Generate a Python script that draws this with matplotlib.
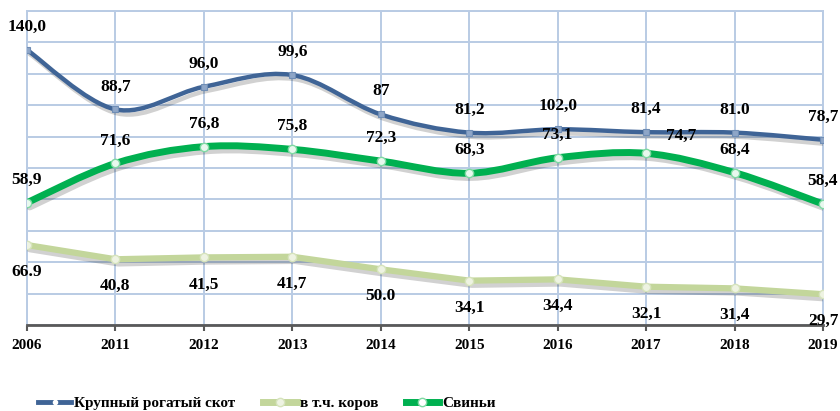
import matplotlib
matplotlib.use("Agg")
import matplotlib.pyplot as plt
from matplotlib.path import Path
from matplotlib.patches import PathPatch
from matplotlib.lines import Line2D
import matplotlib.patheffects as pe

plt.rcParams['font.family'] = 'serif'
plt.rcParams['font.serif'] = ['Liberation Serif', 'DejaVu Serif']

# data (positions, labels as printed)
years = ['2006', '2011', '2012', '2013', '2014', '2015', '2016', '2017', '2018', '2019']
cattle = [131.4, 103.0, 113.8, 119.4, 100.6, 91.9, 93.5, 92.1, 91.9, 88.5]
cattle_labels = ['140,0', '88,7', '96,0', '99,6', '87', '81,2', '102,0', '81,4', '81.0', '78,7']
cows = [38.2, 31.4, 32.3, 32.6, 26.6, 21.2, 21.8, 18.3, 17.5, 14.7]
cows_labels = ['66.9', '40,8', '41,5', '41,7', '50.0', '34,1', '34,4', '32,1', '31,4', '29,7']
pigs = [58.4, 77.2, 85.2, 83.9, 78.3, 72.5, 79.9, 82.0, 72.8, 57.8]
pigs_labels = ['58,9', '71,6', '76,8', '75,8', '72,3', '68,3', '73,1', '74,7', '68,4', '58,4']

C_BLUE = '#3f6496'
C_LIGHT = '#c3d69b'
C_GREEN = '#00b050'
C_GRID = '#b9cbe4'

shadow = [pe.SimpleLineShadow(offset=(2, -3), shadow_color='black', alpha=0.18), pe.Normal()]


def smooth_path(xs, ys):
    # catmull-rom style bezier through the points, like excel's smoothed line
    n = len(xs)
    verts = [(xs[0], ys[0])]
    codes = [Path.MOVETO]
    for i in range(n - 1):
        a = i - 1 if i > 0 else i
        d = i + 2 if i + 2 < n else i + 1
        c1 = (xs[i] + (xs[i + 1] - xs[a]) / 6, ys[i] + (ys[i + 1] - ys[a]) / 6)
        c2 = (xs[i + 1] - (xs[d] - xs[i]) / 6, ys[i + 1] - (ys[d] - ys[i]) / 6)
        verts += [c1, c2, (xs[i + 1], ys[i + 1])]
        codes += [Path.CURVE4] * 3
    return Path(verts, codes)


fig = plt.figure(figsize=(8.4, 4.11), dpi=100)
ax = fig.add_axes([27 / 840, 1 - 325 / 411, 796 / 840, 314 / 411])
x = list(range(len(years)))

ax.set_xlim(0, len(years) - 1)
ax.set_ylim(0, 150)
ax.set_yticks(range(0, 151, 15))
ax.set_xticks(x)
ax.set_xticklabels(years, fontweight='bold', fontsize=11)
ax.grid(True, color=C_GRID, lw=1.4)
ax.set_axisbelow(True)
ax.tick_params(axis='y', left=False, labelleft=False)
ax.tick_params(axis='x', length=4, width=1.5, color='#595959', pad=6)
for s in ['left', 'right', 'top']:
    ax.spines[s].set_color(C_GRID)
    ax.spines[s].set_linewidth(1.4)
ax.spines['bottom'].set_color('#595959')
ax.spines['bottom'].set_linewidth(2)

# lines
ax.add_patch(PathPatch(smooth_path(x, cattle), fill=False, edgecolor=C_BLUE, lw=3.2,
                       capstyle='round', zorder=4, path_effects=shadow))
ax.plot(x, cattle, ls='none', marker='s', ms=5, mfc='#8ea6c8', mec='#6f8db5', mew=0.8, zorder=5)

ax.plot(x, cows, color=C_LIGHT, lw=4.5, solid_capstyle='round', solid_joinstyle='round',
        zorder=3, path_effects=shadow)
ax.plot(x, cows, ls='none', marker='o', ms=6, mfc='#eef3e2', mec='#d6e3bc', mew=1, zorder=5)

ax.add_patch(PathPatch(smooth_path(x, pigs), fill=False, edgecolor=C_GREEN, lw=5,
                       capstyle='round', zorder=4, path_effects=shadow))
ax.plot(x, pigs, ls='none', marker='o', ms=6, mfc='#e8f8ee', mec='#7fd9a3', mew=1, zorder=5)

# data labels
lab = dict(fontweight='bold', fontsize=12.5, color='black',
           ha='center', va='center', textcoords='offset pixels', zorder=6,
           annotation_clip=False)
for i in x:
    ax.annotate(cattle_labels[i], (i, cattle[i]), xytext=(0, 23), **lab)
    ax.annotate(cows_labels[i], (i, cows[i]), xytext=(0, -27), **lab)
    dx, dy = (35, 17) if i == 7 else (0, 23)
    ax.annotate(pigs_labels[i], (i, pigs[i]), xytext=(dx, dy), **lab)

# legend
handles = [
    Line2D([], [], color=C_BLUE, lw=3.5, marker='o', ms=3, mfc='white', mec='white'),
    Line2D([], [], color=C_LIGHT, lw=5, marker='o', ms=6, mfc='#eef3e2', mec='#d6e3bc'),
    Line2D([], [], color=C_GREEN, lw=5, marker='o', ms=6, mfc='white', mec='#7fd9a3'),
]
names = ['Крупный рогатый скот', 'в т.ч. коров', 'Свиньи']
fig.legend(handles, names, loc='center left', bbox_to_anchor=(24 / 840, 8 / 411), ncol=3,
           frameon=False, handlelength=2.2, handletextpad=0.2, columnspacing=1.8,
           prop=dict(weight='bold', size=11))

fig.savefig('out.png', dpi=100)
